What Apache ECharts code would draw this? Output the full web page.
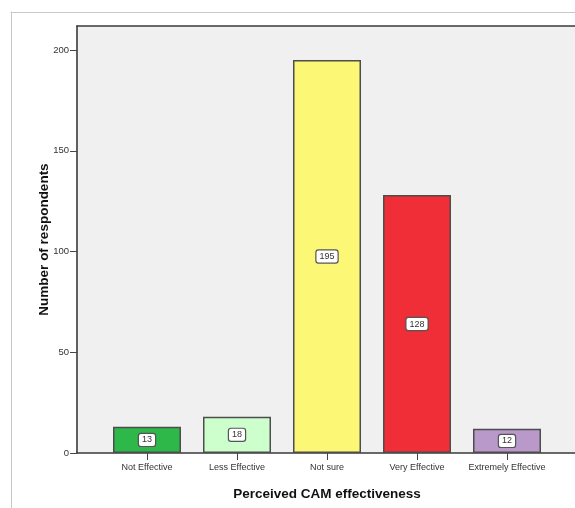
<!DOCTYPE html>
<html>
<head>
<meta charset="utf-8">
<script src="https://cdn.jsdelivr.net/npm/echarts@6/dist/echarts.min.js"></script>
<style>
html,body{margin:0;padding:0;background:#fff;}
#chart{width:575px;height:508px;}
</style>
</head>
<body>
<div id="chart"></div>
<script>
const categories = ['Not Effective', 'Less Effective', 'Not sure', 'Very Effective', 'Extremely Effective'];
const counts = [13, 18, 195, 128, 12];
const yTicks = [0, 50, 100, 150, 200];

const palette = ['#2eb84a', '#ccffcc', '#fcf875', '#ef2e37', '#b899c9'];
const FONT = '"Liberation Sans", Arial, sans-serif';

const frameLine = {show: true, onZero: false, lineStyle: {color: '#c8c8c8', width: 1}};
const plotLine = {show: true, onZero: false, lineStyle: {color: '#3a3a3a', width: 1.6}};

const chart = echarts.init(document.getElementById('chart'), null, {renderer: 'canvas'});
chart.setOption({
  animation: false,
  backgroundColor: '#ffffff',
  grid: [
    {left: 11, top: 12, right: 0, bottom: 0, show: false},
    {left: 77, top: 26, right: 0, bottom: 55, show: true, backgroundColor: '#f0f0f0', borderWidth: 0},
    {left: 102, top: 50, right: 23, bottom: 55, show: false}
  ],
  xAxis: [
    {gridIndex: 0, type: 'value', position: 'top', axisLine: frameLine, axisTick: {show: false}, axisLabel: {show: false}, splitLine: {show: false}},
    {gridIndex: 1, type: 'value', position: 'top', axisLine: plotLine, axisTick: {show: false}, axisLabel: {show: false}, splitLine: {show: false}},
    {gridIndex: 1, type: 'value', position: 'bottom', axisLine: plotLine, axisTick: {show: false}, axisLabel: {show: false}, splitLine: {show: false}},
    {
      gridIndex: 2, type: 'category', data: categories,
      name: 'Perceived CAM effectiveness', nameLocation: 'middle', nameGap: 34,
      nameTextStyle: {fontFamily: FONT, fontSize: 13.5, fontWeight: 'bold', color: '#111'},
      axisLine: {show: false},
      axisTick: {show: true, alignWithLabel: true, length: 7, lineStyle: {color: '#444', width: 1}},
      axisLabel: {fontFamily: FONT, fontSize: 9, color: '#333', margin: 10, interval: 0}
    }
  ],
  yAxis: [
    {gridIndex: 0, type: 'value', position: 'left', axisLine: frameLine, axisTick: {show: false}, axisLabel: {show: false}, splitLine: {show: false}},
    {
      gridIndex: 1, type: 'value', min: 0, max: 212, position: 'left',
      name: 'Number of respondents', nameLocation: 'middle', nameGap: 26,
      nameTextStyle: {fontFamily: FONT, fontSize: 13.5, fontWeight: 'bold', color: '#111'},
      axisLine: plotLine, axisTick: {show: false}, axisLabel: {show: false}, splitLine: {show: false}
    },
    {
      gridIndex: 2, type: 'value', min: yTicks[0], max: yTicks[yTicks.length - 1], interval: 50,
      offset: 25,
      axisLine: {show: false},
      axisTick: {show: true, length: 7, lineStyle: {color: '#444', width: 1}},
      axisLabel: {fontFamily: FONT, fontSize: 9.5, color: '#333', margin: 8},
      splitLine: {show: false}
    }
  ],
  series: [{
    type: 'bar',
    xAxisIndex: 3, yAxisIndex: 2,
    barWidth: 68,
    data: counts.map((v, i) => ({value: v, itemStyle: {color: palette[i]}})),
    itemStyle: {borderColor: '#4d4d4d', borderWidth: 1.5},
    label: {
      show: true, position: 'inside',
      fontFamily: FONT, fontSize: 9, color: '#333',
      backgroundColor: '#ffffff', borderColor: '#555', borderWidth: 1.2, borderRadius: 2,
      padding: [2, 3, 1, 3]
    }
  }]
});
</script>
</body>
</html>
